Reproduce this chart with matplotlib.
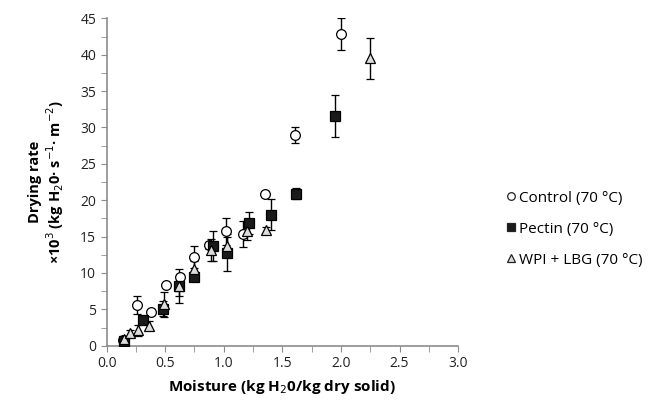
import matplotlib.pyplot as plt
from matplotlib.lines import Line2D
from matplotlib.ticker import MultipleLocator

plt.rcParams['font.family'] = ['Open Sans', 'DejaVu Sans']

# Control (70 C)
ctrl_x = [0.14, 0.26, 0.38, 0.51, 0.63, 0.745, 0.876, 1.02, 1.16, 1.35, 1.61, 2.00]
ctrl_y = [0.8, 5.6, 4.7, 8.3, 9.5, 12.2, 13.8, 15.7, 15.4, 20.9, 28.9, 42.9]
ctrl_e = [0.3, 1.2, 0.3, 0.2, 0.4, 1.5, 0.5, 1.8, 1.8, 0.4, 1.1, 2.2]

# Pectin (70 C)
pec_x = [0.15, 0.31, 0.48, 0.62, 0.75, 0.91, 1.03, 1.215, 1.40, 1.62, 1.95]
pec_y = [0.65, 3.6, 5.1, 8.2, 9.5, 13.7, 12.8, 16.9, 18.0, 20.9, 31.6]
pec_e = [0.4, 0.5, 1.0, 2.3, 0.6, 2.1, 2.6, 1.5, 2.1, 0.8, 2.9]

# WPI + LBG (70 C)
wpi_x = [0.15, 0.20, 0.27, 0.36, 0.49, 0.62, 0.75, 0.89, 1.03, 1.20, 1.36, 2.25]
wpi_y = [0.9, 1.8, 2.1, 2.75, 5.7, 8.2, 10.6, 13.2, 13.7, 15.7, 15.9, 39.5]
wpi_e = [0.3, 0.4, 0.8, 0.6, 1.7, 1.3, 1.0, 1.5, 1.2, 1.2, 0.4, 2.8]

labels = ['Control (70 °C)', 'Pectin (70 °C)', 'WPI + LBG (70 °C)']
markers = ['o', 's', '^']
faces = ['white', '#1a1a1a', '#dcdcdc']

fig = plt.figure(figsize=(6.62, 4.07), dpi=100)
ax = fig.add_axes([0.161, 0.1506, 0.531, 0.8044])

eb = dict(ecolor='black', elinewidth=1, capsize=3, capthick=1, linestyle='none',
          markersize=7, markeredgecolor='black', markeredgewidth=0.9, zorder=3)
series = [(ctrl_x, ctrl_y, ctrl_e), (pec_x, pec_y, pec_e), (wpi_x, wpi_y, wpi_e)]
for (xs, ys, es), m, fc in zip(series, markers, faces):
    ax.errorbar(xs, ys, yerr=es, marker=m, markerfacecolor=fc, **eb)

ax.set_xlim(0, 3.0)
ax.set_ylim(0, 45)
ax.xaxis.set_major_locator(MultipleLocator(0.5))
ax.xaxis.set_minor_locator(MultipleLocator(0.25))
ax.yaxis.set_major_locator(MultipleLocator(5))
ax.yaxis.set_minor_locator(MultipleLocator(2.5))
ax.xaxis.set_major_formatter(plt.FuncFormatter(lambda v, p: f'{v:.1f}'))

for s in ['top', 'right']:
    ax.spines[s].set_visible(False)
for s in ['left', 'bottom']:
    ax.spines[s].set_color('#8c8c8c')
    ax.spines[s].set_linewidth(1.2)
ax.tick_params(which='both', direction='out', length=4, color='#8c8c8c',
               labelsize=10, labelcolor='#222222')

ax.set_xlabel('Moisture (kg H$_2$0/kg dry solid)', fontsize=11, fontweight='bold',
              labelpad=5)
ax.set_ylabel('Drying rate\n×10$^3$ (kg H$_2$0· s$^{-1}$· m$^{-2}$)', fontsize=10.5,
              fontweight='bold', linespacing=1.15, labelpad=10)

# legend: markers only, no error bars
handles = [Line2D([], [], linestyle='none', marker=m, markersize=5.5,
                  markerfacecolor=fc, markeredgecolor='#222222', markeredgewidth=0.9)
           for m, fc in zip(markers, faces)]
fig.legend(handles, labels, loc='center left', bbox_to_anchor=(0.752, 0.437),
           bbox_transform=fig.transFigure, frameon=False, fontsize=11,
           handletextpad=0.2, handlelength=0.7, labelspacing=1.05, borderpad=0)

fig.savefig('out.png', dpi=100)
